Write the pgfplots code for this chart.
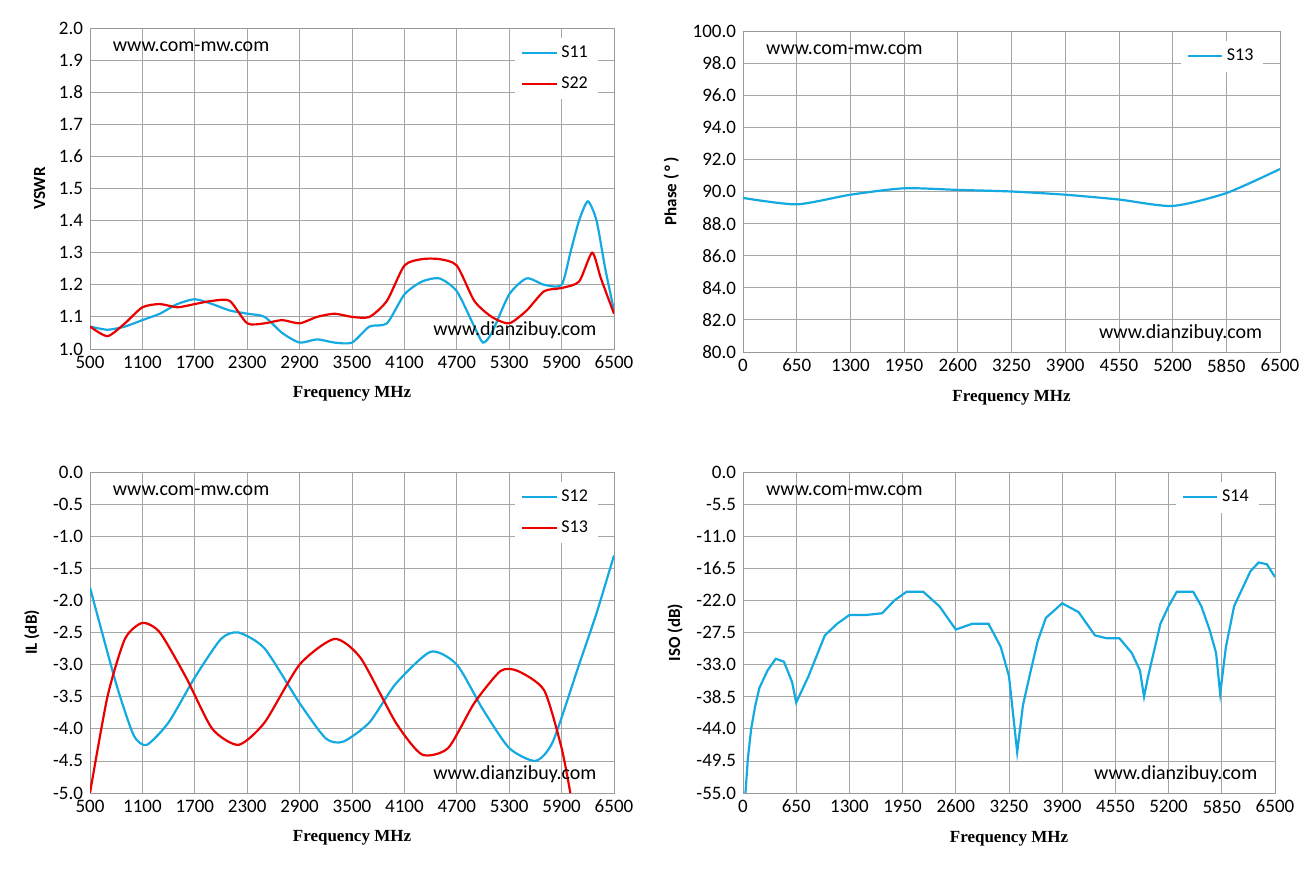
\documentclass[border=0pt]{standalone}
\usepackage{pgfplots}
\pgfplotsset{compat=1.18}
\usepackage{fontspec}
\setmainfont{Carlito}
\newfontfamily\lab{Liberation Serif}
\definecolor{cb}{RGB}{20,170,225}
\definecolor{cr}{RGB}{235,0,0}
\pgfplotsset{
 P/.style={scale only axis, width=262pt, height=160.5pt, anchor=south west,
  grid=major, major grid style={gray!70, line width=0.4pt}, axis line style={gray!80},
  tick style={draw=none}, tick label style={font=\fontsize{9.5}{11}\selectfont},
  /pgf/number format/assume math mode=true, /pgf/number format/1000 sep={},
  xticklabel style={/pgf/number format/fixed, /pgf/number format/precision=0},
  yticklabel style={/pgf/number format/fixed, /pgf/number format/fixed zerofill, /pgf/number format/precision=1},
  xlabel={\lab\bfseries Frequency MHz}, xlabel style={font=\fontsize{8.5}{10}\selectfont, yshift=-2pt},
  ylabel style={font=\bfseries\fontsize{8.5}{10}\selectfont},
  legend style={at={(0.97,0.97)}, anchor=north east, draw=none, fill=white, font=\fontsize{9}{10}\selectfont, row sep=4pt},
  legend cell align=left,
 },
 L/.style={line width=1.1pt, smooth, tension=0.4},
}
\newcommand{\wm}{\node[anchor=north west, font=\fontsize{10}{11}\selectfont] at (rel axis cs:0.03,0.98) {www.com-mw.com};
\node[anchor=south east, font=\fontsize{10}{11}\selectfont] at (rel axis cs:0.98,0.01) {www.dianzibuy.com};}
\begin{document}
\begin{tikzpicture}
\useasboundingbox (0,0) rectangle (653pt,439.5pt);
\begin{axis}[P, at={(45pt,265pt)}, xmin=500,xmax=6500, ymin=1,ymax=2, xtick={500,1100,...,6500}, ytick={1,1.1,...,2.01}, ylabel={VSWR}]
\addplot[cb,L] coordinates {(500,1.07)(700,1.06)(900,1.07)(1100,1.09)(1300,1.11)(1500,1.14)(1700,1.155)(1900,1.14)(2100,1.12)(2300,1.11)(2500,1.10)(2700,1.05)(2900,1.02)(3100,1.03)(3300,1.02)(3500,1.02)(3700,1.07)(3900,1.08)(4100,1.17)(4300,1.21)(4500,1.22)(4700,1.18)(4900,1.07)(5000,1.02)(5100,1.05)(5300,1.17)(5500,1.22)(5700,1.20)(5900,1.20)(6000,1.30)(6100,1.40)(6200,1.46)(6300,1.40)(6400,1.25)(6500,1.12)};
\addplot[cr,L] coordinates {(500,1.07)(700,1.04)(900,1.08)(1100,1.13)(1300,1.14)(1500,1.13)(1700,1.14)(1900,1.15)(2100,1.15)(2300,1.08)(2500,1.08)(2700,1.09)(2900,1.08)(3100,1.10)(3300,1.11)(3500,1.10)(3700,1.10)(3900,1.15)(4100,1.26)(4300,1.28)(4500,1.28)(4700,1.26)(4900,1.15)(5100,1.10)(5300,1.08)(5500,1.12)(5700,1.18)(5900,1.19)(6100,1.21)(6250,1.30)(6350,1.22)(6500,1.11)};
\legend{S11,S22}
\wm
\end{axis}
\begin{axis}[P, width=268.5pt, at={(371.5pt,263.5pt)}, xmin=0,xmax=6500, ymin=80,ymax=100, xtick={0,650,...,6500}, ytick={80,82,...,100}, ylabel={Phase (\,\textdegree\,)}]
\addplot[cb,L] coordinates {(0,89.6)(650,89.2)(1300,89.8)(1950,90.2)(2600,90.1)(3250,90.0)(3900,89.8)(4550,89.5)(5200,89.1)(5850,89.9)(6500,91.4)};
\legend{S13}
\wm
\end{axis}
\begin{axis}[P, at={(45pt,43pt)}, xmin=500,xmax=6500, ymin=-5,ymax=0, xtick={500,1100,...,6500}, ytick={-5,-4.5,...,0.01}, ylabel={IL (dB)}]
\addplot[cb,L] coordinates {(500,-1.8)(800,-3.3)(1000,-4.1)(1150,-4.25)(1400,-3.9)(1700,-3.2)(2000,-2.6)(2200,-2.5)(2500,-2.75)(2900,-3.6)(3200,-4.15)(3400,-4.2)(3700,-3.9)(4000,-3.3)(4400,-2.8)(4700,-3.0)(5000,-3.7)(5300,-4.3)(5600,-4.5)(5800,-4.2)(6100,-3.0)(6300,-2.2)(6500,-1.3)};
\addplot[cr,L] coordinates {(500,-5.0)(700,-3.5)(900,-2.6)(1100,-2.35)(1300,-2.5)(1600,-3.2)(1900,-4.0)(2200,-4.25)(2500,-3.9)(2900,-3.0)(3300,-2.6)(3600,-2.9)(4000,-3.9)(4300,-4.4)(4600,-4.3)(4900,-3.6)(5200,-3.1)(5400,-3.1)(5700,-3.4)(5900,-4.3)(6000,-5.0)};
\legend{S12,S13}
\wm
\end{axis}
\begin{axis}[P, width=266pt, at={(371.5pt,43pt)}, xmin=0,xmax=6500, ymin=-55,ymax=0, xtick={0,650,...,6500}, ytick={-55,-49.5,...,0.01}, ylabel={ISO (dB)}]
\addplot[cb,line width=1.1pt] coordinates {(30,-55)(60,-49)(100,-44)(150,-40)(200,-37)(300,-34)(400,-32)(500,-32.5)(600,-36)(650,-39.5)(700,-38)(800,-35)(1000,-28)(1150,-26)(1300,-24.5)(1500,-24.5)(1700,-24.2)(1850,-22)(2000,-20.5)(2200,-20.5)(2400,-23)(2600,-27)(2800,-26)(3000,-26)(3150,-30)(3250,-35)(3350,-48)(3420,-40)(3500,-35)(3600,-29)(3700,-25)(3900,-22.5)(4100,-24)(4300,-28)(4450,-28.5)(4600,-28.5)(4750,-31)(4850,-34)(4900,-38.5)(4950,-35)(5000,-32)(5100,-26)(5200,-23)(5300,-20.5)(5500,-20.5)(5600,-23)(5700,-27)(5780,-31)(5830,-38)(5900,-30)(6000,-23)(6100,-20)(6200,-17)(6300,-15.5)(6400,-15.8)(6500,-18)};
\legend{S14}
\wm
\end{axis}
\end{tikzpicture}
\end{document}
